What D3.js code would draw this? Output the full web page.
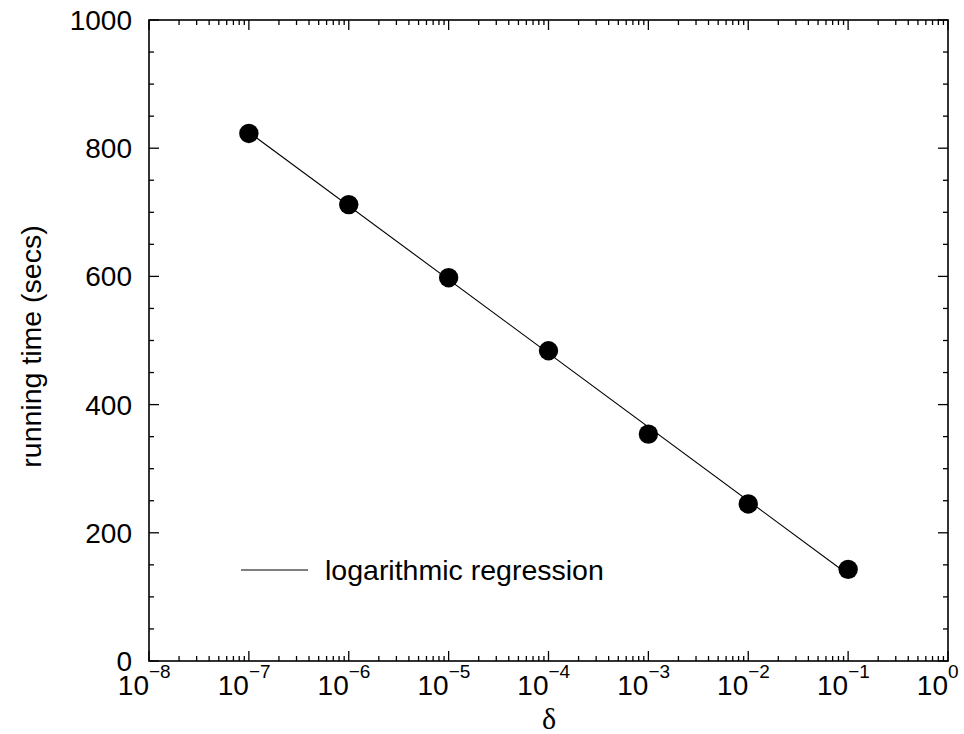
<!DOCTYPE html>
<html>
<head>
<meta charset="utf-8">
<script src="https://cdn.jsdelivr.net/npm/d3@7/dist/d3.min.js"></script>
<style>
  html, body { margin: 0; padding: 0; background: #fff; }
  svg { display: block; }
</style>
</head>
<body>
<svg id="chart" width="964" height="734"></svg>
<script>
// ---- data ----
const deltas = [1e-7, 1e-6, 1e-5, 1e-4, 1e-3, 1e-2, 1e-1];
const runningTimes = [823, 712, 598, 484, 354, 245, 143];
const regressionX = [1e-7, 1e-1];
const regressionY = [825, 135];
const xTickExponents = [-8, -7, -6, -5, -4, -3, -2, -1, 0];
const yTickValues = [0, 200, 400, 600, 800, 1000];
const legendLabel = "logarithmic regression";
const xLabel = "δ";
const yLabel = "running time (secs)";

// ---- layout ----
const svg = d3.select("#chart");
const L = 149, R = 948, T = 20, B = 661;
const x = d3.scaleLog().domain([1e-8, 1]).range([L, R]);
const y = d3.scaleLinear().domain([0, 1000]).range([B, T]);
const font = "'Liberation Sans', Arial, Helvetica, sans-serif";

// minor/major ticks
const xMajor = xTickExponents.map(e => Math.pow(10, e));
const xMinor = [];
for (let e = -8; e < 0; e++) for (let k = 2; k <= 9; k++) xMinor.push(k * Math.pow(10, e));
const yMinor = d3.range(0, 1001, 50).filter(v => v % 200 !== 0);

const g = svg.append("g");
const MAJ = 10, MIN = 5;

function tickLines(vals, len, orient) {
  vals.forEach(v => {
    if (orient === "x") {
      const px = x(v);
      g.append("line").attr("x1", px).attr("x2", px).attr("y1", B).attr("y2", B - len);
      g.append("line").attr("x1", px).attr("x2", px).attr("y1", T).attr("y2", T + len);
    } else {
      const py = y(v);
      g.append("line").attr("x1", L).attr("x2", L + len).attr("y1", py).attr("y2", py);
      g.append("line").attr("x1", R).attr("x2", R - len).attr("y1", py).attr("y2", py);
    }
  });
}
tickLines(xMajor, MAJ, "x");
tickLines(xMinor, MIN, "x");
tickLines(yTickValues, MAJ, "y");
tickLines(yMinor, MIN, "y");
g.selectAll("line").attr("stroke", "#000").attr("stroke-width", 1.3);

// frame
svg.append("rect").attr("x", L).attr("y", T).attr("width", R - L).attr("height", B - T)
  .attr("fill", "none").attr("stroke", "#000").attr("stroke-width", 1.6);

// x tick labels
xTickExponents.forEach(e => {
  const px = x(Math.pow(10, e));
  const t = svg.append("g").attr("font-family", font).attr("fill", "#000");
  t.append("text").attr("x", px).attr("y", 695).attr("text-anchor", "end")
    .attr("font-size", 28).text("10");
  t.append("text").attr("x", px).attr("y", 678).attr("text-anchor", "start")
    .attr("font-size", 19).text(e < 0 ? "\u2212" + Math.abs(e) : String(e));
});

// y tick labels
yTickValues.forEach(v => {
  svg.append("text").attr("x", 132).attr("y", y(v)).attr("dy", "0.36em")
    .attr("text-anchor", "end").attr("font-family", font).attr("font-size", 28)
    .text(v);
});

// axis labels
svg.append("text").attr("x", 549).attr("y", 729).attr("text-anchor", "middle")
  .attr("font-family", "'Liberation Serif', 'Times New Roman', serif").attr("font-size", 30)
  .text(xLabel);
svg.append("text").attr("transform", `translate(41,${(T + B) / 2 + 6}) rotate(-90)`)
  .attr("text-anchor", "middle").attr("font-family", font).attr("font-size", 28.5)
  .text(yLabel);

// regression line
const reg = regressionX.map((d, i) => [d, regressionY[i]]);
svg.append("path").datum(reg)
  .attr("d", d3.line().x(d => x(d[0])).y(d => y(d[1])))
  .attr("fill", "none").attr("stroke", "#000").attr("stroke-width", 1.1);

// points
svg.selectAll("circle.pt").data(deltas.map((d, i) => [d, runningTimes[i]]))
  .enter().append("circle").attr("class", "pt")
  .attr("cx", d => x(d[0])).attr("cy", d => y(d[1])).attr("r", 9.7)
  .attr("fill", "#000");

// legend
svg.append("line").attr("x1", 241).attr("x2", 308).attr("y1", 570).attr("y2", 570)
  .attr("stroke", "#000").attr("stroke-width", 1.1);
svg.append("text").attr("x", 325).attr("y", 580).attr("font-family", font)
  .attr("font-size", 28.5).text(legendLabel);
</script>
</body>
</html>
